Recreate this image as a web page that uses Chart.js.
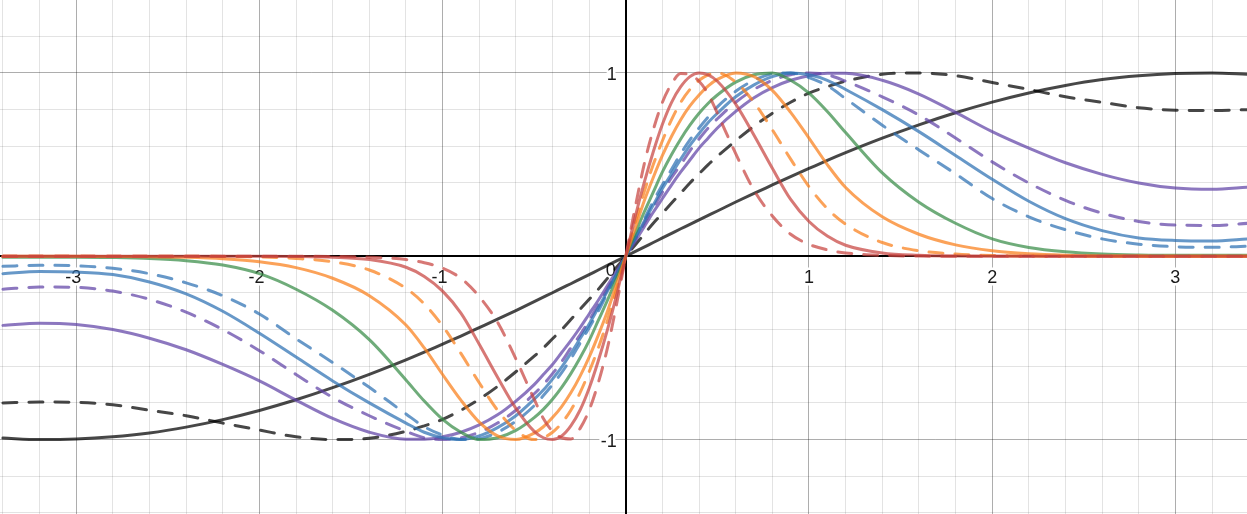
<!DOCTYPE html>
<html>
<head>
<meta charset="utf-8">
<script src="https://cdn.jsdelivr.net/npm/chart.js@4.4.1/dist/chart.umd.min.js"></script>
<style>
html,body{margin:0;padding:0;background:#fff;overflow:hidden}
#wrap{width:1247px;height:514px;position:relative}
</style>
</head>
<body>
<div id="wrap"><canvas id="c"></canvas></div>
<script>
// ---- data ----
const xs = [-3.4,-3.2,-3.0,-2.8,-2.6,-2.4,-2.2,-2.0,-1.8,-1.6,-1.4,-1.2,-1.1,-1.0,-0.9,-0.8,-0.7,-0.6,-0.5,-0.45,-0.4,-0.35,-0.3,-0.25,-0.2,-0.15,-0.1,-0.05,0,0.05,0.1,0.15,0.2,0.25,0.3,0.35,0.4,0.45,0.5,0.6,0.7,0.8,0.9,1.0,1.1,1.2,1.4,1.6,1.8,2.0,2.2,2.4,2.6,2.8,3.0,3.2,3.4];

const redDashed = [0,0,0,0,0,0,0,0,0,-0.001,-0.005,-0.018,-0.035,-0.065,-0.12,-0.22,-0.36,-0.56,-0.78,-0.885,-0.955,-0.99,-0.997,-0.94,-0.84,-0.69,-0.50,-0.26,0,0.26,0.50,0.69,0.84,0.94,0.997,0.99,0.955,0.885,0.78,0.56,0.36,0.22,0.12,0.065,0.035,0.018,0.005,0.001,0,0,0,0,0,0,0,0,0];
const redSolid = [0,0,0,0,0,0,0,0,-0.001,-0.005,-0.018,-0.06,-0.11,-0.19,-0.31,-0.48,-0.66,-0.83,-0.955,-0.99,-1.0,-0.98,-0.925,-0.84,-0.72,-0.57,-0.40,-0.21,0,0.21,0.40,0.57,0.72,0.84,0.925,0.98,1.0,0.99,0.955,0.83,0.66,0.48,0.31,0.19,0.11,0.06,0.018,0.005,0.001,0,0,0,0,0,0,0,0];
const orangeDashed = [0,0,0,0,0,0,-0.001,-0.004,-0.012,-0.03,-0.075,-0.175,-0.26,-0.38,-0.53,-0.69,-0.84,-0.95,-1.0,-0.99,-0.96,-0.91,-0.84,-0.745,-0.63,-0.50,-0.35,-0.18,0,0.18,0.35,0.50,0.63,0.745,0.84,0.91,0.96,0.99,1.0,0.95,0.84,0.69,0.53,0.38,0.26,0.175,0.075,0.03,0.012,0.004,0.001,0,0,0,0,0,0];
const orangeSolid = [0,0,0,-0.001,-0.002,-0.006,-0.014,-0.03,-0.062,-0.12,-0.215,-0.375,-0.50,-0.645,-0.785,-0.905,-0.98,-1.0,-0.965,-0.93,-0.88,-0.82,-0.745,-0.655,-0.55,-0.43,-0.30,-0.15,0,0.15,0.30,0.43,0.55,0.655,0.745,0.82,0.88,0.93,0.965,1.0,0.98,0.905,0.785,0.645,0.50,0.375,0.215,0.12,0.062,0.03,0.014,0.006,0.002,0.001,0,0,0];
const green = [-0.006,-0.005,-0.005,-0.007,-0.012,-0.024,-0.048,-0.095,-0.18,-0.295,-0.455,-0.675,-0.79,-0.89,-0.96,-1.0,-0.99,-0.95,-0.88,-0.835,-0.78,-0.715,-0.64,-0.555,-0.46,-0.35,-0.24,-0.12,0,0.12,0.24,0.35,0.46,0.555,0.64,0.715,0.78,0.835,0.88,0.95,0.99,1.0,0.96,0.89,0.79,0.675,0.455,0.295,0.18,0.095,0.048,0.024,0.012,0.007,0.005,0.005,0.006];
const blueDashed = [-0.055,-0.049,-0.052,-0.066,-0.095,-0.145,-0.215,-0.315,-0.45,-0.58,-0.715,-0.86,-0.93,-0.975,-1.0,-0.995,-0.96,-0.90,-0.815,-0.76,-0.70,-0.635,-0.56,-0.475,-0.39,-0.30,-0.20,-0.10,0,0.10,0.20,0.30,0.39,0.475,0.56,0.635,0.70,0.76,0.815,0.90,0.96,0.995,1.0,0.975,0.93,0.86,0.715,0.58,0.45,0.315,0.215,0.145,0.095,0.066,0.052,0.049,0.055];
const blueSolid = [-0.095,-0.083,-0.086,-0.10,-0.14,-0.205,-0.30,-0.42,-0.55,-0.68,-0.80,-0.91,-0.96,-0.99,-1.0,-0.98,-0.935,-0.87,-0.78,-0.73,-0.67,-0.605,-0.53,-0.45,-0.37,-0.28,-0.19,-0.095,0,0.095,0.19,0.28,0.37,0.45,0.53,0.605,0.67,0.73,0.78,0.87,0.935,0.98,1.0,0.99,0.96,0.91,0.80,0.68,0.55,0.42,0.30,0.205,0.14,0.10,0.086,0.083,0.095];
const purpleDashed = [-0.18,-0.168,-0.17,-0.19,-0.235,-0.305,-0.40,-0.515,-0.645,-0.77,-0.87,-0.955,-0.99,-1.0,-0.99,-0.96,-0.91,-0.84,-0.75,-0.70,-0.64,-0.575,-0.50,-0.43,-0.35,-0.265,-0.18,-0.09,0,0.09,0.18,0.265,0.35,0.43,0.50,0.575,0.64,0.70,0.75,0.84,0.91,0.96,0.99,1.0,0.99,0.955,0.87,0.77,0.645,0.515,0.40,0.305,0.235,0.19,0.17,0.168,0.18];
const purpleSolid = [-0.377,-0.365,-0.372,-0.40,-0.447,-0.51,-0.59,-0.68,-0.785,-0.885,-0.96,-0.998,-0.998,-0.985,-0.96,-0.92,-0.865,-0.79,-0.70,-0.645,-0.59,-0.525,-0.46,-0.39,-0.315,-0.24,-0.16,-0.08,0,0.08,0.16,0.24,0.315,0.39,0.46,0.525,0.59,0.645,0.70,0.79,0.865,0.92,0.96,0.985,0.998,0.998,0.96,0.885,0.785,0.68,0.59,0.51,0.447,0.40,0.372,0.365,0.377];
const blackDashed = [-0.80,-0.795,-0.797,-0.81,-0.84,-0.87,-0.91,-0.948,-0.985,-1.0,-0.993,-0.955,-0.925,-0.89,-0.84,-0.78,-0.71,-0.63,-0.545,-0.50,-0.45,-0.40,-0.345,-0.29,-0.235,-0.18,-0.12,-0.06,0,0.06,0.12,0.18,0.235,0.29,0.345,0.40,0.45,0.50,0.545,0.63,0.71,0.78,0.84,0.89,0.925,0.955,0.993,1.0,0.985,0.948,0.91,0.87,0.84,0.81,0.797,0.795,0.80];
const blackSolid = [-0.992,-1.0,-0.997,-0.985,-0.964,-0.932,-0.891,-0.841,-0.783,-0.717,-0.644,-0.565,-0.523,-0.479,-0.435,-0.389,-0.343,-0.296,-0.247,-0.223,-0.199,-0.174,-0.15,-0.125,-0.10,-0.075,-0.05,-0.025,0,0.025,0.05,0.075,0.10,0.125,0.15,0.174,0.199,0.223,0.247,0.296,0.343,0.389,0.435,0.479,0.523,0.565,0.644,0.717,0.783,0.841,0.891,0.932,0.964,0.985,0.997,1.0,0.992];

const xTickValues = [-3,-2,-1,1,2,3];
const xTickLabels = ['-3','-2','-1','1','2','3'];
const yTickValues = [-1,1];
const yTickLabels = ['-1','1'];
const originLabel = '0';

// ---- styling ----
const ALPHA = 0.72;
function rgba(hex,a){const n=parseInt(hex.slice(1),16);return `rgba(${n>>16},${(n>>8)&255},${n&255},${a})`;}
const RED='#c74440', ORANGE='#fa7e19', GREEN='#388c46', BLUE='#2d70b3', PURPLE='#6042a6', BLACK='#000000';
const DASH=[14,12];

const series = [
  {name:'redDashed', ys:redDashed, color:RED, dash:true},
  {name:'redSolid', ys:redSolid, color:RED, dash:false},
  {name:'orangeDashed', ys:orangeDashed, color:ORANGE, dash:true},
  {name:'orangeSolid', ys:orangeSolid, color:ORANGE, dash:false},
  {name:'green', ys:green, color:GREEN, dash:false},
  {name:'blueDashed', ys:blueDashed, color:BLUE, dash:true},
  {name:'blueSolid', ys:blueSolid, color:BLUE, dash:false},
  {name:'purpleDashed', ys:purpleDashed, color:PURPLE, dash:true},
  {name:'purpleSolid', ys:purpleSolid, color:PURPLE, dash:false},
  {name:'blackDashed', ys:blackDashed, color:BLACK, dash:true},
  {name:'blackSolid', ys:blackSolid, color:BLACK, dash:false}
];

const datasets = series.map(s => ({
  label: s.name,
  data: xs.map((x,i) => ({x:x, y:s.ys[i]})),
  borderColor: rgba(s.color, ALPHA),
  borderWidth: 3,
  borderDash: s.dash ? DASH : [],
  pointRadius: 0,
  fill: false,
  cubicInterpolationMode: 'monotone',
  borderCapStyle: 'round',
  borderJoinStyle: 'round'
}));

function gridTicks(lo, hi){const t=[];for(let k=lo;k<=hi;k++){t.push({value:Math.round(k*2)/10});}return t;}
function gridColor(ctx){
  const v = ctx.tick ? ctx.tick.value : 1.1;
  if (Math.abs(v) < 1e-9) return '#000';
  if (Math.abs(v - Math.round(v)) < 1e-9) return 'rgba(0,0,0,0.32)';
  return 'rgba(0,0,0,0.11)';
}
function gridWidth(ctx){
  const v = ctx.tick ? ctx.tick.value : 1.1;
  return Math.abs(v) < 1e-9 ? 2 : 1;
}

const labelPlugin = {
  id: 'axisLabels',
  beforeDatasetsDraw(chart){
    const {ctx, scales:{x, y}} = chart;
    const x0 = x.getPixelForValue(0), y0 = y.getPixelForValue(0);
    ctx.save();
    ctx.font = '18px "Liberation Sans", Arial, sans-serif';
    ctx.lineJoin = 'round';
    ctx.lineWidth = 5;
    ctx.strokeStyle = '#fff';
    ctx.fillStyle = '#1a1a1a';
    ctx.textBaseline = 'alphabetic';
    ctx.textAlign = 'center';
    xTickValues.forEach((v,i) => {
      const px = x.getPixelForValue(v) - (v < 0 ? 3 : 0);
      ctx.strokeText(xTickLabels[i], px, y0 + 27);
      ctx.fillText(xTickLabels[i], px, y0 + 27);
    });
    ctx.textAlign = 'right';
    yTickValues.forEach((v,i) => {
      const py = y.getPixelForValue(v) + 7;
      ctx.strokeText(yTickLabels[i], x0 - 9, py);
      ctx.fillText(yTickLabels[i], x0 - 9, py);
    });
    ctx.strokeText(originLabel, x0 - 10, y0 + 20);
    ctx.fillText(originLabel, x0 - 10, y0 + 20);
    ctx.restore();
  }
};

new Chart(document.getElementById('c'), {
  type: 'line',
  data: { datasets },
  options: {
    responsive: true,
    maintainAspectRatio: false,
    animation: false,
    events: [],
    layout: { padding: 0 },
    plugins: { legend: {display:false}, tooltip: {enabled:false} },
    scales: {
      x: {
        type: 'linear', min: -3.416, max: 3.391,
        afterBuildTicks: s => { s.ticks = gridTicks(-17, 17); },
        ticks: { display: false },
        grid: { drawTicks: false, color: gridColor, lineWidth: gridWidth },
        border: { display: false }
      },
      y: {
        type: 'linear', min: -1.406, max: 1.398,
        afterBuildTicks: s => { s.ticks = gridTicks(-7, 7); },
        ticks: { display: false },
        grid: { drawTicks: false, color: gridColor, lineWidth: gridWidth },
        border: { display: false }
      }
    }
  },
  plugins: [labelPlugin]
});
</script>
</body>
</html>
